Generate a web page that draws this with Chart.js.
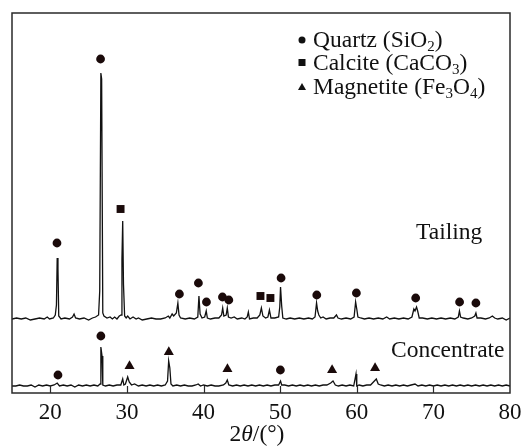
<!DOCTYPE html>
<html>
<head>
<meta charset="utf-8">
<script src="https://cdn.jsdelivr.net/npm/chart.js@4.4.0/dist/chart.umd.min.js"></script>
<style>
  html, body { margin: 0; padding: 0; background: #fff; }
  #wrap { width: 530px; height: 447px; }
</style>
</head>
<body>
<div id="wrap"><canvas id="xrd" width="530" height="447"></canvas></div>
<script>
// 2theta positions and intensities (a.u., above each pattern's own baseline)
const tailX = [15.0, 15.6, 16.2, 16.8, 17.4, 18.0, 18.6, 19.2, 19.6, 19.9, 20.4, 20.65, 20.8, 20.9, 21.0, 21.1, 21.4, 21.9, 22.5, 22.9, 23.1, 23.3, 23.8, 24.4, 25.0, 25.5, 25.9, 26.3, 26.45, 26.6, 26.7, 26.85, 27.0, 27.4, 27.8, 28.1, 28.4, 28.7, 29.0, 29.25, 29.35, 29.45, 29.55, 29.7, 29.9, 30.1, 30.4, 30.8, 31.2, 31.5, 32.0, 32.6, 33.2, 33.8, 34.4, 35.0, 35.4, 35.6, 35.9, 36.1, 36.45, 36.65, 36.8, 37.0, 37.6, 38.2, 38.8, 39.25, 39.4, 39.55, 39.8, 40.15, 40.35, 40.5, 40.9, 41.5, 42.0, 42.35, 42.5, 42.65, 42.95, 43.1, 43.25, 43.6, 44.0, 44.4, 45.0, 45.4, 45.7, 45.85, 46.0, 46.5, 47.0, 47.35, 47.55, 47.75, 48.1, 48.4, 48.6, 48.8, 49.3, 49.8, 49.95, 50.05, 50.2, 50.35, 50.8, 51.3, 51.9, 52.5, 53.1, 53.7, 54.2, 54.55, 54.75, 54.9, 55.05, 55.3, 55.6, 56.0, 56.5, 57.0, 57.35, 57.55, 58.0, 58.6, 59.2, 59.65, 59.85, 60.0, 60.15, 60.5, 61.0, 61.6, 62.2, 62.8, 63.4, 63.9, 64.3, 64.9, 65.5, 66.1, 66.7, 67.2, 67.45, 67.6, 67.8, 67.95, 68.15, 68.6, 69.2, 69.8, 70.4, 71.0, 71.6, 72.2, 72.8, 73.25, 73.4, 73.55, 73.9, 74.5, 75.0, 75.4, 75.55, 75.7, 76.2, 76.8, 77.3, 77.7, 78.0, 78.4, 79.0, 79.5, 80.0];
const tailY = [0, 1, 0, 1, -1, 0, 1, 0, 2, 0, 1, 4, 14, 61, 50, 3, 0, 1, 0, 2, 5, 1, 0, 1, -1, 1, 2, 4, 28, 246, 240, 6, 3, 1, 2, 0, 2, 0, 3, 4, 60, 98, 35, 3, 1, 3, 0, 2, 0, 1, -1, 0, 1, 0, 0, 1, 3, 1, 5, 3, 6, 16, 4, 1, 0, 1, 0, 2, 23, 5, 1, 2, 8, 1, 0, 1, 1, 4, 11, 3, 4, 11, 2, 1, 2, 0, 1, 0, 2, 7, 0, 1, 1, 4, 11, 3, 1, 2, 9, 1, 1, 2, 12, 32, 13, 1, 0, 1, 0, 1, 0, 1, 0, 2, 16, 8, 4, 1, 2, 0, 1, 1, 4, 1, 0, 1, 0, 2, 17, 10, 2, 1, 0, 1, 0, 1, 0, 2, 0, 1, 0, 1, 0, 2, 10, 8, 12, 8, 1, 1, 0, 1, 0, 1, 0, 1, 0, 2, 8, 2, 1, 0, 1, 3, 6, 1, 1, 0, 1, 3, 1, 0, 1, -1, 1];

const concX = [15.0, 15.5, 16.0, 16.5, 17.0, 17.5, 18.0, 18.5, 19.0, 19.5, 20.0, 20.5, 20.9, 21.2, 21.7, 22.2, 22.7, 23.2, 23.7, 24.2, 24.7, 25.2, 25.7, 26.2, 26.5, 26.6, 26.75, 26.85, 27.2, 27.7, 28.2, 28.7, 29.2, 29.45, 29.6, 29.8, 30.1, 30.3, 30.6, 31.0, 31.5, 32.0, 32.5, 33.0, 33.5, 34.0, 34.5, 35.0, 35.3, 35.45, 35.6, 35.75, 36.0, 36.5, 37.0, 37.5, 38.0, 38.5, 39.0, 39.3, 39.6, 40.0, 40.5, 41.0, 41.5, 42.0, 42.6, 42.9, 43.1, 43.3, 43.8, 44.3, 44.8, 45.3, 45.8, 46.3, 46.8, 47.3, 47.8, 48.3, 48.8, 49.3, 49.8, 50.05, 50.2, 50.6, 51.1, 51.6, 52.1, 52.6, 53.1, 53.6, 54.1, 54.6, 55.1, 55.6, 56.1, 56.6, 56.9, 57.2, 57.6, 58.1, 58.6, 59.1, 59.6, 59.9, 60.0, 60.3, 60.8, 61.3, 61.8, 62.3, 62.55, 62.8, 63.1, 63.6, 64.1, 64.6, 65.1, 65.6, 66.1, 66.6, 67.1, 67.6, 68.0, 68.5, 69.0, 69.5, 70.0, 70.5, 71.0, 71.5, 72.0, 72.5, 73.0, 73.5, 74.0, 74.5, 75.0, 75.5, 76.0, 76.5, 77.0, 77.5, 78.0, 78.5, 79.0, 79.5, 80.0];
const concY = [0, 0, 1, 0, 0, 1, -1, 1, 0, 1, 0, 1, 3, 0, 1, 0, 1, -1, 1, 0, 1, 0, 1, 0, 2, 39, 30, 1, 0, 1, 0, 1, 1, 7, 1, 2, 9, 4, 1, 2, 0, 1, 0, 1, 0, 1, 0, 1, 5, 25, 18, 2, 0, 1, 0, 1, 0, 0, 1, 2, 0, 1, 0, 1, 0, 0, 1, 3, 6, 1, 0, 1, 0, 1, 0, 1, 0, 1, 0, 1, 0, 1, 1, 5, 1, 1, 0, 1, 0, 1, 0, 1, 0, 1, 0, 1, 1, 3, 5, 1, 0, 1, 0, 1, 0, 12, 0, 1, 0, 1, 1, 5, 7, 2, 1, 0, 1, 0, 1, 0, 1, 0, 1, 2, 0, 1, 0, 1, 0, 1, 0, 1, 0, 1, 0, 1, 0, 1, 0, 1, 0, 1, 0, 1, 0, 1, 0, 1, 0];

// vertical stacking offsets of the two patterns
const tailOffset = 74;
const concOffset = 7;

// phase markers (2theta, plotted height)
const quartzX = [20.87, 26.56, 36.85, 39.33, 40.38, 42.47, 43.3, 50.12, 54.78, 59.95, 67.69, 73.42, 75.55, 21.0, 26.6, 50.03];
const quartzY = [150, 334, 99, 110, 91, 96, 93, 115, 98, 100, 95, 91, 90, 18, 57, 23];
const calciteX = [29.17, 47.43, 48.73];
const calciteY = [184, 97, 95];
const magnetiteX = [30.34, 35.47, 43.12, 56.78, 62.39];
const magnetiteY = [27, 41, 24, 23, 25];

const tickVals = [20, 30, 40, 50, 60, 70, 80];

const serif = "'Liberation Serif', 'DejaVu Serif', serif";
const ink = '#111';
const fs = 23.5;

const toPts = (xs, ys, off) => xs.map((x, i) => ({ x: x, y: ys[i] + (off || 0) }));

const markerSet = (xs, ys, style, r) => ({
  type: 'scatter',
  data: toPts(xs, ys),
  pointStyle: style,
  pointRadius: r,
  pointBackgroundColor: '#1a0a0a',
  pointBorderColor: '#1a0a0a',
  pointBorderWidth: 0,
  showLine: false
});

// frame, inward ticks and all the text labels
const decor = {
  id: 'decor',
  afterDraw(chart) {
    const ctx = chart.ctx;
    const a = chart.chartArea;
    const xs = chart.scales.x;
    ctx.save();
    ctx.strokeStyle = '#2a2a2a';
    ctx.lineWidth = 1.5;
    ctx.strokeRect(a.left, a.top, a.right - a.left, a.bottom - a.top);

    ctx.lineWidth = 1.2;
    ctx.beginPath();
    tickVals.slice(0, -1).forEach(v => {
      const px = Math.round(xs.getPixelForValue(v)) + 0.5;
      ctx.moveTo(px, a.bottom);
      ctx.lineTo(px, a.bottom - 7);
    });
    ctx.stroke();

    ctx.fillStyle = ink;
    ctx.textBaseline = 'alphabetic';

    // legend
    const lx = 302, tx = 313;
    ctx.beginPath();
    ctx.arc(lx, 40, 3.5, 0, Math.PI * 2);
    ctx.fill();
    ctx.fillRect(lx - 3.5, 59, 7, 7);
    ctx.beginPath();
    ctx.moveTo(lx, 83);
    ctx.lineTo(lx + 4, 90);
    ctx.lineTo(lx - 4, 90);
    ctx.closePath();
    ctx.fill();

    const rich = (parts, x, y) => {
      parts.forEach(p => {
        ctx.font = p.sub ? '15px ' + serif : (p.it ? 'italic ' : '') + fs + 'px ' + serif;
        ctx.fillText(p.t, x, y + (p.sub ? 4 : 0));
        x += ctx.measureText(p.t).width;
      });
    };
    rich([{ t: 'Quartz (SiO' }, { t: '2', sub: true }, { t: ')' }], tx, 47);
    rich([{ t: 'Calcite (CaCO' }, { t: '3', sub: true }, { t: ')' }], tx, 70);
    rich([{ t: 'Magnetite (Fe' }, { t: '3', sub: true }, { t: 'O' }, { t: '4', sub: true }, { t: ')' }], tx, 94);

    ctx.font = fs + 'px ' + serif;
    ctx.fillText('Tailing', 416, 239);
    ctx.fillText('Concentrate', 391, 357);

    // x axis title with italic theta
    const parts = [{ t: '2' }, { t: 'θ', it: true }, { t: '/(°)' }];
    let w = 0;
    parts.forEach(p => {
      ctx.font = (p.it ? 'italic ' : '') + fs + 'px ' + serif;
      w += ctx.measureText(p.t).width;
    });
    rich(parts, (a.left + a.right) / 2 - w / 2 - 4, 441);
    ctx.restore();
  }
};

new Chart(document.getElementById('xrd'), {
  type: 'line',
  data: {
    datasets: [
      {
        label: 'Tailing',
        data: toPts(tailX, tailY, tailOffset),
        borderColor: ink,
        borderWidth: 1.3,
        pointRadius: 0,
        tension: 0
      },
      {
        label: 'Concentrate',
        data: toPts(concX, concY, concOffset),
        borderColor: ink,
        borderWidth: 1.3,
        pointRadius: 0,
        tension: 0
      },
      markerSet(quartzX, quartzY, 'circle', 4.4),
      markerSet(calciteX, calciteY, 'rect', 5.6),
      markerSet(magnetiteX, magnetiteY, 'triangle', 5.8)
    ]
  },
  options: {
    responsive: false,
    animation: false,
    layout: { padding: { left: 12, right: 20, top: 13, bottom: 0 } },
    plugins: { legend: { display: false }, tooltip: { enabled: false } },
    scales: {
      x: {
        type: 'linear',
        min: 15,
        max: 80,
        afterBuildTicks: s => { s.ticks = tickVals.map(v => ({ value: v })); },
        afterFit: s => { s.height = 54; },
        grid: { display: false, drawTicks: false },
        border: { display: false },
        ticks: {
          color: ink,
          font: { family: serif, size: 23 },
          padding: 6,
          maxRotation: 0,
          autoSkip: false
        }
      },
      y: { display: false, min: 0, max: 380 }
    }
  },
  plugins: [decor]
});
</script>
</body>
</html>
